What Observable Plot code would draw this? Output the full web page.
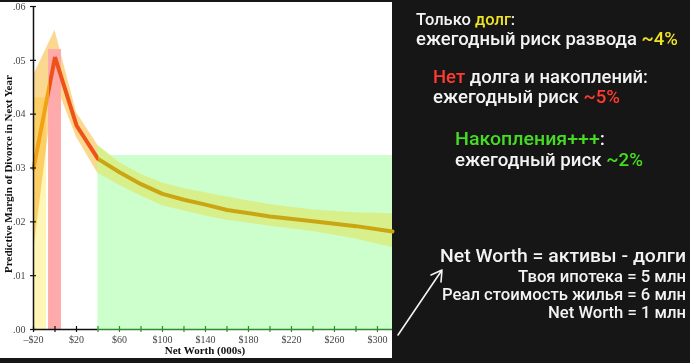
<!DOCTYPE html>
<html>
<head>
<meta charset="utf-8">
<script src="https://cdn.jsdelivr.net/npm/d3@7"></script>
<script src="https://cdn.jsdelivr.net/npm/@observablehq/plot@0.6"></script>
<style>
  html, body { margin: 0; padding: 0; background: #161616; }
  #wrap { position: relative; width: 690px; height: 363px; overflow: hidden; background: #161616; }
  #chart { position: absolute; left: 0; top: 2px; }
  #notes { position: absolute; left: 0; top: 0; }
  #notes text { white-space: pre; }
</style>
</head>
<body>
<div id="wrap">
  <div id="chart"></div>
  <svg id="notes" width="690" height="363"></svg>
</div>
<script>
// ---------- data ----------
const xDomain = [-20, 314];
const yDomain = [0, 0.06];
const netWorth = [-20, 0, 20, 40, 60, 80, 100, 120, 140, 160, 200, 240, 280, 314];
const margin   = [0.0299, 0.0506, 0.0379, 0.0317, 0.0292, 0.0270, 0.0252, 0.0241, 0.0232, 0.0222, 0.0210, 0.0201, 0.0192, 0.0182];
const ciUpper  = [0.0472, 0.0556, 0.0403, 0.0342, 0.0310, 0.0288, 0.0272, 0.0262, 0.0254, 0.0246, 0.0232, 0.0222, 0.0217, 0.0215];
const ciLower  = [0.0143, 0.0460, 0.0357, 0.0290, 0.0268, 0.0248, 0.0230, 0.0220, 0.0211, 0.0203, 0.0192, 0.0182, 0.0168, 0.0152];

const bandNames = ["debt", "none", "savings"];
const bandX1    = [-20, -6, 40];
const bandX2    = [-8, 6, 314];
const bandTop   = [0.043, 0.052, 0.0323];

const xTicks      = d3.range(-20, 301, 20);
const xTickLabels = d3.range(-20, 301, 40);
const yTicks      = [0, 0.01, 0.02, 0.03, 0.04, 0.05, 0.06];

const xTitle = "Net Worth (000s)";
const yTitle = "Predictive Margin of Divorce in Next Year";

// ---------- styles ----------
const bandFill = { debt: "#fff5b4", none: "#ffaaaa", savings: "#ccffcc" };
const lineColors = { debt: "#f2a216", none: "#ee5219", savings: "#c9a612" };
const ciColors = { plain: "#fbd890", savings: "#d8f08c" };
const axisGreen = "#2e8b2e";

const points = netWorth.map((x, i) => ({ x, y: margin[i], lo: ciLower[i], hi: ciUpper[i] }));
const bands = bandNames.map((name, i) => ({ name, x1: bandX1[i], x2: bandX2[i], top: bandTop[i] }));
const band = n => bands.filter(b => b.name === n);
const off = v => (v - netWorth[0]) / (netWorth[netWorth.length - 1] - netWorth[0]);

const redStart = band("none")[0].x1;
const greenStart = band("savings")[0].x1;

function defs() {
  const d = d3.create("svg:defs");
  const lg = d.append("linearGradient").attr("id", "lineGrad").attr("x1", 0).attr("x2", 1).attr("y1", 0).attr("y2", 0);
  [[0, lineColors.debt], [off(redStart), lineColors.debt], [off(redStart), lineColors.none],
   [off(greenStart), lineColors.none], [off(greenStart), lineColors.savings], [1, lineColors.savings]]
    .forEach(([o, c]) => lg.append("stop").attr("offset", o).attr("stop-color", c));
  const cg = d.append("linearGradient").attr("id", "ciGrad").attr("x1", 0).attr("x2", 1).attr("y1", 0).attr("y2", 0);
  [[0, ciColors.plain], [off(greenStart), ciColors.plain], [off(greenStart), ciColors.savings], [1, ciColors.savings]]
    .forEach(([o, c]) => cg.append("stop").attr("offset", o).attr("stop-color", c));
  return d.node();
}

const plot = Plot.plot({
  width: 392,
  height: 356,
  marginLeft: 33,
  marginRight: 0,
  marginTop: 4,
  marginBottom: 29,
  style: { background: "#ffffff", fontFamily: "Liberation Serif", overflow: "visible" },
  x: { domain: xDomain, axis: null },
  y: { domain: yDomain, axis: null },
  marks: [
    defs,
    Plot.rect(band("savings"), { x1: "x1", x2: "x2", y1: 0, y2: "top", fill: bandFill.savings }),
    Plot.areaY(points, { x: "x", y1: "lo", y2: "hi", fill: "url(#ciGrad)" }),
    Plot.rect(band("debt"), { x1: "x1", x2: "x2", y1: 0, y2: "top", fill: bandFill.debt, mixBlendMode: "multiply" }),
    Plot.rect(band("none"), { x1: "x1", x2: "x2", y1: 0, y2: "top", fill: bandFill.none }),
    Plot.line(points, { x: "x", y: "y", stroke: "url(#lineGrad)", strokeWidth: 4, strokeLinejoin: "miter" }),
    // axes
    Plot.ruleX([xDomain[0]], { stroke: "#111", strokeWidth: 1.5 }),
    Plot.ruleY([{ y: 0, a: xDomain[0], b: greenStart }], { y: "y", x1: "a", x2: "b", stroke: "#111", strokeWidth: 1.5 }),
    Plot.ruleY([{ y: 0, a: greenStart, b: xDomain[1] }], { y: "y", x1: "a", x2: "b", stroke: axisGreen, strokeWidth: 1.5 }),
    Plot.ruleY(yTicks, { y: d => d, x1: xDomain[0], x2: xDomain[0], insetLeft: -3, insetRight: -3, stroke: "#111", strokeWidth: 1.2 }),
    Plot.ruleX(xTicks.filter(d => d < greenStart), { x: d => d, y1: 0, y2: 0, insetTop: -3, insetBottom: -3, stroke: "#111", strokeWidth: 1.2 }),
    Plot.ruleX(xTicks.filter(d => d >= greenStart), { x: d => d, y1: 0, y2: 0, insetTop: -3, insetBottom: -3, stroke: axisGreen, strokeWidth: 1.2 }),
    Plot.text(yTicks, { x: xDomain[0], y: d => d, text: d => d3.format(".2f")(d).replace(/^0/, ""), textAnchor: "end", dx: -8, fontSize: 10, fill: "#444" }),
    Plot.text(xTickLabels, { x: d => d, y: 0, text: d => (d < 0 ? "\u2013$" : "$") + Math.abs(d), dy: 10, fontSize: 10, fill: "#444" }),
    Plot.text([xTitle], { frameAnchor: "bottom", textAnchor: "middle", dx: -8, dy: 24.5, fontWeight: "bold", fontSize: 11, fill: "#111" }),
    Plot.text([yTitle], { frameAnchor: "left", textAnchor: "middle", rotate: -90, dx: -25, dy: 6, fontWeight: "bold", fontSize: 11, fill: "#111" })
  ]
});
document.getElementById("chart").appendChild(plot);

// ---------- annotations ----------
const notes = d3.select("#notes");
const white = "#f3f3f3", yellow = "#efe324", red = "#ff3b30", green = "#45dd22";
const noteFont = "Roboto, 'Open Sans', sans-serif";
const lines = [
  { x: 416, y: 25, size: 16.5, w: null, parts: [["Только ", white], ["долг", yellow], [":", white]] },
  { x: 416, y: 45, size: 17.5, w: 262, parts: [["ежегодный риск развода ", white], ["~4%", yellow]] },
  { x: 433, y: 83, size: 17.5, w: 215, parts: [["Нет", red], [" долга и накоплений:", white]] },
  { x: 433, y: 103, size: 17.5, w: 187, parts: [["ежегодный риск ", white], ["~5%", red]] },
  { x: 455, y: 145, size: 17.5, w: 150, parts: [["Накопления+++", green], [":", white]] },
  { x: 455, y: 166, size: 17.5, w: 188, parts: [["ежегодный риск ", white], ["~2%", green]] },
  { x: 440, y: 262, size: 19, w: 246, parts: [["Net Worth = активы - долги", white]] },
  { x: 518, y: 282, size: 16, w: 168, parts: [["Твоя ипотека = 5 млн", white]] },
  { x: 442, y: 300, size: 16, w: 244, parts: [["Реал стоимость жилья = 6 млн", white]] },
  { x: 548, y: 318, size: 16, w: 138, parts: [["Net Worth = 1 млн", white]] }
];
lines.forEach(l => {
  const els = l.parts.map(([s, c]) => notes.append("text").attr("y", l.y)
    .attr("font-family", noteFont).attr("font-size", l.size).attr("font-weight", 500)
    .attr("fill", c).text(s));
  const nat = els.map(e => e.node().getComputedTextLength());
  const k = l.w ? l.w / d3.sum(nat) : 1;
  let cx = l.x;
  els.forEach((e, i) => {
    const w = nat[i] * k;
    e.attr("x", cx);
    if (l.w) e.attr("textLength", w).attr("lengthAdjust", "spacingAndGlyphs");
    cx += w;
  });
});
notes.append("path").attr("d", "M398,335 L442,270 M442,270 L431,275 M442,270 L441,282")
  .attr("stroke", "#f3f3f3").attr("stroke-width", 1.6).attr("fill", "none").attr("stroke-linecap", "round");
</script>
</body>
</html>
